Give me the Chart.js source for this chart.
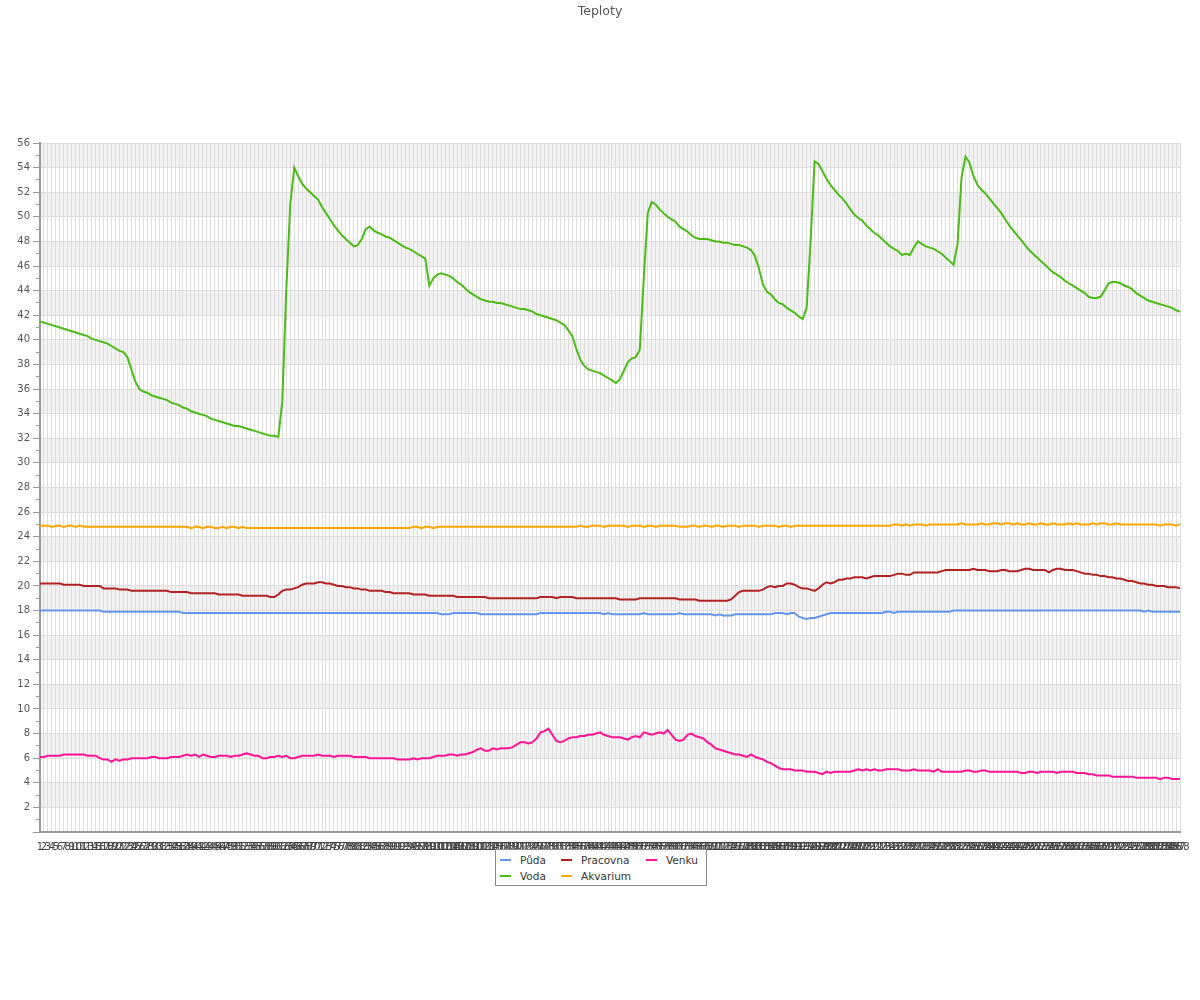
<!DOCTYPE html>
<html><head><meta charset="utf-8">
<script src="https://cdn.jsdelivr.net/npm/chart.js@4"></script>
<style>
html,body{margin:0;padding:0;background:#fff;}
#wrap{position:relative;width:1200px;height:1000px;}
#title{position:absolute;left:0;top:3px;width:1200px;text-align:center;font-family:"DejaVu Sans",sans-serif;font-size:12.5px;color:#555;}
#legend{position:absolute;left:495px;top:849px;width:210px;height:35px;border:1px solid #888;background:#fff;font-family:"DejaVu Sans",sans-serif;font-size:10.5px;color:#333;}
.item{position:absolute;white-space:nowrap;line-height:14px;}
.sw{display:inline-block;width:11px;height:2px;vertical-align:middle;margin-right:9px;position:relative;top:-1px;}
</style></head>
<body>
<div id="wrap">
<canvas id="c" width="1200" height="1000"></canvas>
<div id="title">Teploty</div>
<div id="legend"></div>
</div>
<script>
const chartTitle = "Teploty";
const labels = Array.from({length: 288}, (_, i) => String(i + 1));
const seriesNames = ["Půda", "Voda", "Pracovna", "Akvarium", "Venku"];
const seriesColors = ["#6495ed", "#4cbb17", "#b22222", "#ffa500", "#ff1493"];

const puda = [
18.0,18.0,18.0,18.0,18.0,18.0,18.0,18.0,18.0,18.0,
18.0,18.0,18.0,18.0,18.0,18.0,17.9,17.9,17.9,17.9,
17.9,17.9,17.9,17.9,17.9,17.9,17.9,17.9,17.9,17.9,
17.9,17.9,17.9,17.9,17.9,17.9,17.8,17.8,17.8,17.8,
17.8,17.8,17.8,17.8,17.8,17.8,17.8,17.8,17.8,17.8,
17.8,17.8,17.8,17.8,17.8,17.8,17.8,17.8,17.8,17.8,
17.8,17.8,17.8,17.8,17.8,17.8,17.8,17.8,17.8,17.8,
17.8,17.8,17.8,17.8,17.8,17.8,17.8,17.8,17.8,17.8,
17.8,17.8,17.8,17.8,17.8,17.8,17.8,17.8,17.8,17.8,
17.8,17.8,17.8,17.8,17.8,17.8,17.8,17.8,17.8,17.8,
17.8,17.7,17.7,17.7,17.8,17.8,17.8,17.8,17.8,17.8,
17.8,17.7,17.7,17.7,17.7,17.7,17.7,17.7,17.7,17.7,
17.7,17.7,17.7,17.7,17.7,17.7,17.8,17.8,17.8,17.8,
17.8,17.8,17.8,17.8,17.8,17.8,17.8,17.8,17.8,17.8,
17.8,17.8,17.7,17.8,17.7,17.7,17.7,17.7,17.7,17.7,
17.7,17.7,17.8,17.7,17.7,17.7,17.7,17.7,17.7,17.7,
17.7,17.8,17.7,17.7,17.7,17.7,17.7,17.7,17.7,17.7,
17.6,17.7,17.6,17.6,17.6,17.7,17.7,17.7,17.7,17.7,
17.7,17.7,17.7,17.7,17.7,17.8,17.8,17.8,17.7,17.8,
17.8,17.5,17.4,17.3,17.4,17.4,17.5,17.6,17.7,17.8,
17.8,17.8,17.8,17.8,17.8,17.8,17.8,17.8,17.8,17.8,
17.8,17.8,17.8,17.9,17.9,17.8,17.9,17.9,17.9,17.9,
17.9,17.9,17.9,17.9,17.9,17.9,17.9,17.9,17.9,17.9,
18.0,18.0,18.0,18.0,18.0,18.0,18.0,18.0,18.0,18.0,
18.0,18.0,18.0,18.0,18.0,18.0,18.0,18.0,18.0,18.0,
18.0,18.0,18.0,18.0,18.0,18.0,18.0,18.0,18.0,18.0,
18.0,18.0,18.0,18.0,18.0,18.0,18.0,18.0,18.0,18.0,
18.0,18.0,18.0,18.0,18.0,18.0,18.0,18.0,17.9,18.0,
17.9,17.9,17.9,17.9,17.9,17.9,17.9,17.9];

const voda = [
41.5,41.4,41.3,41.2,41.1,41.0,40.9,40.8,40.7,40.6,
40.5,40.4,40.3,40.1,40.0,39.9,39.8,39.7,39.5,39.3,
39.1,39.0,38.6,37.6,36.6,36.0,35.8,35.7,35.5,35.4,
35.3,35.2,35.1,34.9,34.8,34.7,34.5,34.4,34.2,34.1,
34.0,33.9,33.8,33.6,33.5,33.4,33.3,33.2,33.1,33.0,
33.0,32.9,32.8,32.7,32.6,32.5,32.4,32.3,32.2,32.2,
32.1,35.0,44.0,51.0,54.0,53.3,52.7,52.3,52.0,51.7,
51.4,50.8,50.3,49.8,49.3,48.9,48.5,48.2,47.9,47.6,
47.7,48.2,49.0,49.2,48.9,48.7,48.6,48.4,48.3,48.1,
47.9,47.7,47.5,47.4,47.2,47.0,46.8,46.6,44.4,45.0,
45.3,45.4,45.3,45.2,45.0,44.7,44.5,44.2,43.9,43.7,
43.5,43.3,43.2,43.1,43.1,43.0,43.0,42.9,42.8,42.7,
42.6,42.5,42.5,42.4,42.3,42.1,42.0,41.9,41.8,41.7,
41.6,41.4,41.2,40.8,40.3,39.3,38.4,37.9,37.6,37.5,
37.4,37.3,37.1,36.9,36.7,36.5,36.8,37.5,38.2,38.5,
38.6,39.2,45.0,50.3,51.2,51.0,50.6,50.3,50.0,49.8,
49.6,49.2,49.0,48.8,48.5,48.3,48.2,48.2,48.2,48.1,
48.0,48.0,47.9,47.9,47.8,47.7,47.7,47.6,47.5,47.3,
46.8,45.8,44.5,43.9,43.7,43.3,43.0,42.9,42.6,42.4,
42.2,41.9,41.7,42.6,48.0,54.5,54.3,53.7,53.1,52.6,
52.2,51.8,51.5,51.1,50.6,50.2,49.9,49.7,49.3,49.0,
48.7,48.5,48.2,47.9,47.6,47.4,47.2,46.9,47.0,46.9,
47.5,48.0,47.8,47.6,47.5,47.4,47.2,47.0,46.7,46.4,
46.1,47.8,53.2,54.9,54.4,53.3,52.6,52.2,51.9,51.5,
51.1,50.7,50.3,49.8,49.3,48.9,48.5,48.1,47.7,47.3,
47.0,46.7,46.4,46.1,45.8,45.5,45.3,45.1,44.8,44.6,
44.4,44.2,44.0,43.8,43.5,43.4,43.4,43.5,44.0,44.6,
44.7,44.7,44.6,44.4,44.3,44.1,43.8,43.6,43.4,43.2,
43.1,43.0,42.9,42.8,42.7,42.6,42.4,42.3];

const pracovna = [
20.2,20.2,20.2,20.2,20.2,20.2,20.1,20.1,20.1,20.1,
20.1,20.0,20.0,20.0,20.0,20.0,19.8,19.8,19.8,19.8,
19.7,19.7,19.7,19.6,19.6,19.6,19.6,19.6,19.6,19.6,
19.6,19.6,19.6,19.5,19.5,19.5,19.5,19.5,19.4,19.4,
19.4,19.4,19.4,19.4,19.4,19.3,19.3,19.3,19.3,19.3,
19.3,19.2,19.2,19.2,19.2,19.2,19.2,19.2,19.1,19.1,
19.3,19.6,19.7,19.7,19.8,19.9,20.1,20.2,20.2,20.2,
20.3,20.3,20.2,20.2,20.1,20.0,20.0,19.9,19.9,19.8,
19.8,19.7,19.7,19.6,19.6,19.6,19.6,19.5,19.5,19.4,
19.4,19.4,19.4,19.4,19.3,19.3,19.3,19.3,19.2,19.2,
19.2,19.2,19.2,19.2,19.2,19.1,19.1,19.1,19.1,19.1,
19.1,19.1,19.1,19.0,19.0,19.0,19.0,19.0,19.0,19.0,
19.0,19.0,19.0,19.0,19.0,19.0,19.1,19.1,19.1,19.1,
19.0,19.1,19.1,19.1,19.1,19.0,19.0,19.0,19.0,19.0,
19.0,19.0,19.0,19.0,19.0,19.0,18.9,18.9,18.9,18.9,
18.9,19.0,19.0,19.0,19.0,19.0,19.0,19.0,19.0,19.0,
19.0,18.9,18.9,18.9,18.9,18.9,18.8,18.8,18.8,18.8,
18.8,18.8,18.8,18.8,18.9,19.2,19.5,19.6,19.6,19.6,
19.6,19.6,19.7,19.9,20.0,19.9,20.0,20.0,20.2,20.2,
20.1,19.9,19.8,19.8,19.7,19.6,19.8,20.1,20.3,20.2,
20.3,20.5,20.5,20.6,20.6,20.7,20.7,20.7,20.6,20.7,
20.8,20.8,20.8,20.8,20.8,20.9,21.0,21.0,20.9,20.9,
21.1,21.1,21.1,21.1,21.1,21.1,21.1,21.2,21.3,21.3,
21.3,21.3,21.3,21.3,21.3,21.4,21.3,21.3,21.3,21.2,
21.2,21.2,21.3,21.3,21.2,21.2,21.2,21.3,21.4,21.4,
21.3,21.3,21.3,21.3,21.1,21.3,21.4,21.4,21.3,21.3,
21.3,21.2,21.1,21.0,21.0,20.9,20.9,20.8,20.8,20.7,
20.7,20.6,20.6,20.5,20.4,20.4,20.3,20.2,20.2,20.1,
20.1,20.0,20.0,20.0,19.9,19.9,19.9,19.8];

const akvarium = [
24.9,24.9,24.9,24.8,24.9,24.9,24.8,24.9,24.9,24.8,
24.9,24.8,24.8,24.8,24.8,24.8,24.8,24.8,24.8,24.8,
24.8,24.8,24.8,24.8,24.8,24.8,24.8,24.8,24.8,24.8,
24.8,24.8,24.8,24.8,24.8,24.8,24.8,24.8,24.7,24.8,
24.8,24.7,24.8,24.8,24.7,24.7,24.8,24.7,24.8,24.8,
24.7,24.8,24.7,24.7,24.7,24.7,24.7,24.7,24.7,24.7,
24.7,24.7,24.7,24.7,24.7,24.7,24.7,24.7,24.7,24.7,
24.7,24.7,24.7,24.7,24.7,24.7,24.7,24.7,24.7,24.7,
24.7,24.7,24.7,24.7,24.7,24.7,24.7,24.7,24.7,24.7,
24.7,24.7,24.7,24.7,24.8,24.8,24.7,24.8,24.8,24.7,
24.8,24.8,24.8,24.8,24.8,24.8,24.8,24.8,24.8,24.8,
24.8,24.8,24.8,24.8,24.8,24.8,24.8,24.8,24.8,24.8,
24.8,24.8,24.8,24.8,24.8,24.8,24.8,24.8,24.8,24.8,
24.8,24.8,24.8,24.8,24.8,24.8,24.9,24.8,24.8,24.9,
24.9,24.9,24.8,24.9,24.9,24.9,24.9,24.9,24.8,24.9,
24.9,24.9,24.8,24.9,24.9,24.8,24.9,24.9,24.9,24.9,
24.9,24.8,24.8,24.8,24.9,24.9,24.8,24.9,24.9,24.8,
24.9,24.9,24.8,24.9,24.9,24.9,24.8,24.9,24.9,24.9,
24.9,24.8,24.9,24.9,24.9,24.9,24.8,24.9,24.9,24.8,
24.9,24.9,24.9,24.9,24.9,24.9,24.9,24.9,24.9,24.9,
24.9,24.9,24.9,24.9,24.9,24.9,24.9,24.9,24.9,24.9,
24.9,24.9,24.9,24.9,24.9,25.0,25.0,24.9,25.0,24.9,
25.0,25.0,25.0,24.9,25.0,25.0,25.0,25.0,25.0,25.0,
25.0,25.0,25.1,25.0,25.0,25.0,25.0,25.1,25.0,25.0,
25.1,25.1,25.0,25.1,25.1,25.0,25.1,25.0,25.0,25.1,
25.0,25.0,25.1,25.0,25.0,25.1,25.0,25.0,25.0,25.1,
25.0,25.1,25.0,25.0,25.0,25.1,25.0,25.1,25.1,25.0,
25.0,25.1,25.0,25.0,25.0,25.0,25.0,25.0,25.0,25.0,
25.0,25.0,24.9,25.0,25.0,25.0,24.9,25.0];

const venku = [
6.1,6.1,6.2,6.2,6.2,6.2,6.3,6.3,6.3,6.3,
6.3,6.3,6.2,6.2,6.2,6.0,5.9,5.9,5.7,5.9,
5.8,5.9,5.9,6.0,6.0,6.0,6.0,6.0,6.1,6.1,
6.0,6.0,6.0,6.1,6.1,6.1,6.2,6.3,6.2,6.3,
6.1,6.3,6.2,6.1,6.1,6.2,6.2,6.2,6.1,6.2,
6.2,6.3,6.4,6.3,6.2,6.2,6.0,6.0,6.1,6.1,
6.2,6.1,6.2,6.0,6.0,6.1,6.2,6.2,6.2,6.2,
6.3,6.2,6.2,6.2,6.1,6.2,6.2,6.2,6.2,6.1,
6.1,6.1,6.1,6.0,6.0,6.0,6.0,6.0,6.0,6.0,
5.9,5.9,5.9,5.9,6.0,5.9,6.0,6.0,6.0,6.1,
6.2,6.2,6.2,6.3,6.3,6.2,6.3,6.3,6.4,6.5,
6.7,6.8,6.6,6.6,6.8,6.7,6.8,6.8,6.8,6.9,
7.1,7.3,7.3,7.2,7.3,7.6,8.1,8.2,8.4,7.9,
7.4,7.3,7.4,7.6,7.7,7.7,7.8,7.8,7.9,7.9,
8.0,8.1,7.9,7.8,7.7,7.7,7.7,7.6,7.5,7.7,
7.8,7.7,8.1,8.0,7.9,8.0,8.1,8.0,8.3,7.9,
7.5,7.4,7.5,7.9,8.0,7.8,7.7,7.6,7.3,7.1,
6.8,6.7,6.6,6.5,6.4,6.3,6.3,6.2,6.1,6.3,
6.1,6.0,5.9,5.7,5.6,5.4,5.2,5.1,5.1,5.1,
5.0,5.0,5.0,4.9,4.9,4.9,4.8,4.7,4.9,4.8,
4.9,4.9,4.9,4.9,4.9,5.0,5.1,5.0,5.1,5.0,
5.1,5.0,5.0,5.1,5.1,5.1,5.1,5.0,5.0,5.0,
5.1,5.0,5.0,5.0,5.0,4.9,5.1,4.9,4.9,4.9,
4.9,4.9,4.9,5.0,5.0,4.9,4.9,5.0,5.0,4.9,
4.9,4.9,4.9,4.9,4.9,4.9,4.9,4.8,4.8,4.9,
4.9,4.8,4.9,4.9,4.9,4.9,4.8,4.9,4.9,4.9,
4.9,4.8,4.8,4.8,4.7,4.7,4.6,4.6,4.6,4.6,
4.5,4.5,4.5,4.5,4.5,4.5,4.4,4.4,4.4,4.4,
4.4,4.4,4.3,4.4,4.4,4.3,4.3,4.3];

const yMin = 0, yMax = 56;
const seriesData = [puda, voda, pracovna, akvarium, venku];

document.getElementById('title').textContent = chartTitle;

const bandPlugin = {
  id: 'bands',
  beforeDraw(chart) {
    const {ctx, chartArea} = chart;
    const y = chart.scales.y;
    ctx.save();
    ctx.fillStyle = '#f2f2f2';
    for (let v = yMax; v > yMin; v -= 4) {
      const top = y.getPixelForValue(v);
      const bot = y.getPixelForValue(v - 2);
      ctx.fillRect(chartArea.left, top, chartArea.right - chartArea.left, bot - top);
    }
    ctx.restore();
  }
};

const font = {family: '"DejaVu Sans", sans-serif', size: 10};

new Chart(document.getElementById('c'), {
  type: 'line',
  data: {
    labels: labels,
    datasets: seriesNames.map((n, i) => ({
      label: n,
      data: seriesData[i],
      borderColor: seriesColors[i],
      backgroundColor: seriesColors[i],
      borderWidth: 2,
      pointRadius: 0,
      tension: 0,
      fill: false
    }))
  },
  options: {
    responsive: false,
    animation: false,
    devicePixelRatio: 1,
    layout: {padding: {top: 143, right: 20, left: 0, bottom: 0}},
    plugins: {legend: {display: false}, title: {display: false}, tooltip: {enabled: false}},
    scales: {
      x: {
        type: 'category',
        offset: false,
        grid: {color: '#dddddd', lineWidth: 1, drawTicks: false},
        border: {color: '#999999', width: 2},
        ticks: {autoSkip: false, maxRotation: 0, minRotation: 0, padding: 9, color: '#444', font: font},
        afterFit: s => { s.height = 168; }
      },
      y: {
        min: yMin, max: yMax,
        ticks: {
          stepSize: 1, autoSkip: false, padding: 3, color: '#555', font: font,
          callback: v => (v % 2 === 0 && v !== 0) ? String(v) : ''
        },
        grid: {
          color: c => (c.tick && c.tick.value % 2 === 0) ? '#dddddd' : 'rgba(0,0,0,0)',
          lineWidth: 1,
          tickLength: 7,
          tickColor: '#999999',
          tickWidth: 1,
          tickBorderDash: c => (c.tick && c.tick.value % 2 !== 0) ? [0, 3, 5, 30] : []
        },
        border: {color: '#999999', width: 2},
        afterFit: s => { s.width = 40; }
      }
    }
  },
  plugins: [bandPlugin]
});

// legend (column-major, 2 rows)
const colX = [4, 65, 150];
const leg = document.getElementById('legend');
seriesNames.forEach((n, i) => {
  const d = document.createElement('div');
  d.className = 'item';
  d.style.left = colX[Math.floor(i / 2)] + 'px';
  d.style.top = (i % 2 === 0 ? 3 : 18.5) + 'px';
  const sw = document.createElement('span');
  sw.className = 'sw';
  sw.style.background = seriesColors[i];
  d.appendChild(sw);
  d.appendChild(document.createTextNode(n));
  leg.appendChild(d);
});
</script>
</body></html>
